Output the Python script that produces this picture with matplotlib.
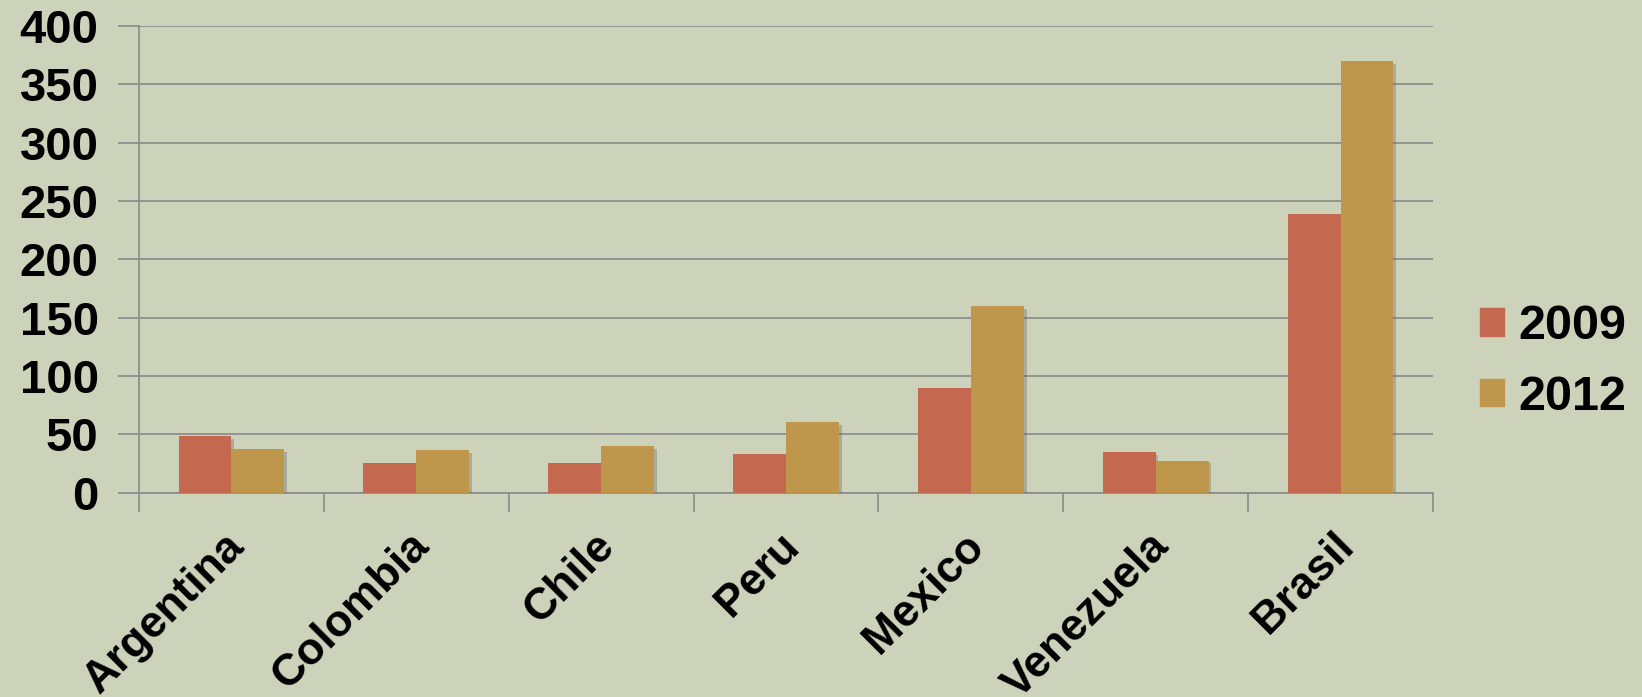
import matplotlib
matplotlib.use("Agg")
import matplotlib.pyplot as plt
import matplotlib.patheffects as pe
from matplotlib.transforms import ScaledTranslation
import numpy as np

countries = ["Argentina", "Colombia", "Chile", "Peru", "Mexico", "Venezuela", "Brasil"]
series_names = ["2009", "2012"]
values_2009 = [48.5, 25.5, 25.5, 33, 90, 34.5, 239]
values_2012 = [37.5, 36.5, 40, 60.5, 160, 27.5, 370]
yticks = [0, 50, 100, 150, 200, 250, 300, 350, 400]

bg = "#CDD2BA"
c2009 = "#C4684F"
c2012 = "#BF974C"
grid_c = "#8E8E8E"

plt.rcParams['font.family'] = ['Liberation Sans', 'DejaVu Sans']
plt.rcParams['font.weight'] = 'bold'

fig = plt.figure(figsize=(16.42, 6.97), dpi=100, facecolor=bg)
ax = fig.add_axes([139/1642, 1-492.7/697, (1433-139)/1642, (492.7-26)/697])
ax.set_facecolor(bg)

x = np.arange(len(countries))
w = 0.286
shadow = [pe.SimplePatchShadow(offset=(2, -2), shadow_rgbFace="#555555", alpha=0.3), pe.Normal()]
b1 = ax.bar(x - w/2, values_2009, w, color=c2009, label=series_names[0], zorder=3)
b2 = ax.bar(x + w/2, values_2012, w, color=c2012, label=series_names[1], zorder=3)
for b in list(b1) + list(b2):
    b.set_path_effects(shadow)

ax.set_xlim(-0.5, len(countries) - 0.5)
ax.set_ylim(0, 400)
ax.set_yticks(yticks)
ax.set_yticklabels([str(v) for v in yticks], fontsize=34, fontweight='bold')
ax.yaxis.grid(True, color=grid_c, linewidth=1.3, zorder=0)
ax.set_axisbelow(True)

ax.set_xticks(x)
ax.set_xticklabels(countries, rotation=45, ha='right', va='top', rotation_mode='anchor',
                   fontsize=32, fontweight='bold')
ax.set_xticks(np.arange(-0.5, len(countries)), minor=True)
ax.tick_params(axis='x', which='major', length=0, pad=22)
ax.tick_params(axis='x', which='minor', length=14, width=1.3, color=grid_c)
ax.tick_params(axis='y', length=15, width=1.3, color=grid_c, pad=14)

offset = ScaledTranslation(-8/100, -2/100, fig.dpi_scale_trans)
for lab in ax.get_xticklabels():
    lab.set_transform(lab.get_transform() + offset)

for s in ['top', 'right']:
    ax.spines[s].set_visible(False)
for s in ['left', 'bottom']:
    ax.spines[s].set_color(grid_c)
    ax.spines[s].set_linewidth(1.3)

h1 = plt.Rectangle((0, 0), 1, 1, color=c2009)
h2 = plt.Rectangle((0, 0), 1, 1, color=c2012)
leg = fig.legend(handles=[h1, h2], labels=series_names, loc='center left',
                 bbox_to_anchor=(1480/1642, 1-362/697), frameon=False,
                 prop={'size': 35, 'weight': 'bold'},
                 handlelength=0.5, handleheight=0.5,
                 handletextpad=0.28, labelspacing=0.52, borderpad=0, borderaxespad=0)

fig.savefig("out.png", dpi=100, facecolor=bg)
